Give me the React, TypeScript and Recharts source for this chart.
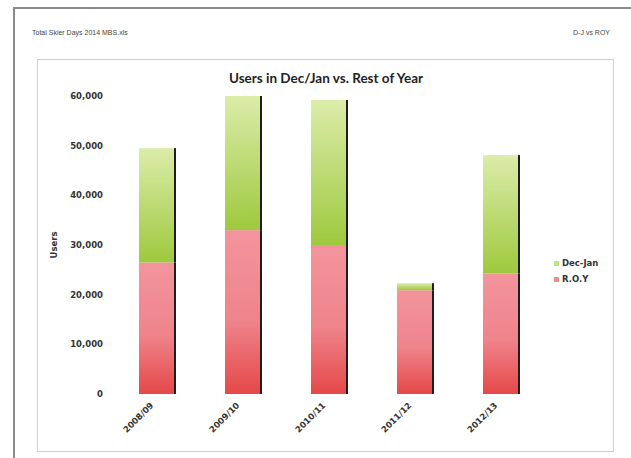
import { Bar, BarChart, Legend, XAxis, YAxis } from "recharts"

const seasons = ["2008/09", "2009/10", "2010/11", "2011/12", "2012/13"]
const roy = [26500, 33000, 30000, 20900, 24300]
const decJan = [23000, 27000, 29200, 1400, 23800]
const yTicks = [0, 10000, 20000, 30000, 40000, 50000, 60000]

const data = seasons.map((season, i) => ({
  season,
  roy: roy[i],
  decJan: decJan[i],
}))

const font = "Lato, 'Open Sans', sans-serif"
const tickFont = "'DejaVu Sans', Verdana, sans-serif"

// bar segment with the dark edge on the right like the excel export
function ShadedBar(props: any) {
  const { x, y, width, height, fill } = props
  if (!height || height <= 0) return null
  return (
    <g>
      <rect x={x} y={y} width={width} height={height} fill={fill} />
      <rect x={x + width - 1} y={y} width={2} height={height} fill="#1e1e1e" />
    </g>
  )
}

function SeasonTick(props: any) {
  const { x, y, payload } = props
  return (
    <text
      x={x - 3}
      y={y + 4}
      transform={`rotate(-45, ${x - 3}, ${y + 4})`}
      textAnchor="end"
      fontSize={8.5}
      fontWeight="bold"
      fontFamily={tickFont}
      fill="#333"
    >
      {payload.value}
    </text>
  )
}

function LegendBox(props: any) {
  const items = props.payload || []
  return (
    <div style={{ fontFamily: tickFont, fontSize: 8.5, fontWeight: "bold", color: "#333" }}>
      {items.map((p: any) => (
        <div key={p.value} style={{ display: "flex", alignItems: "center", height: 16 }}>
          <span
            style={{
              width: 5,
              height: 5,
              background: p.dataKey === "roy" ? "#ef8a92" : "#c6e07c",
              marginRight: 3,
            }}
          />
          {p.value}
        </div>
      ))}
    </div>
  )
}

export default function App() {
  return (
    <div style={{ position: "absolute", left: 0, top: 0, width: 631, height: 458, background: "#fff", overflow: "hidden" }}>
      <div style={{ position: "absolute", left: 13, top: 7, width: 630, height: 460, borderTop: "2px solid #8a8a8a", borderLeft: "2px solid #8a8a8a" }} />
      <div style={{ position: "absolute", left: 32, top: 29, fontFamily: "'Liberation Sans', Arial, sans-serif", fontSize: 7, color: "#444" }}>
        Total Skier Days 2014 MBS.xls
      </div>
      <div style={{ position: "absolute", right: 21, top: 29, fontFamily: "'Liberation Sans', Arial, sans-serif", fontSize: 7, color: "#444" }}>
        D-J vs ROY
      </div>
      <div style={{ position: "absolute", left: 37, top: 59, width: 577, height: 393, border: "1px solid #cfcfcf", boxSizing: "border-box" }}>
        <div style={{ position: "absolute", left: 0, top: 10, width: 576, textAlign: "center", fontFamily: font, fontWeight: "bold", fontSize: 13.5, color: "#222" }}>
          Users in Dec/Jan vs. Rest of Year
        </div>
        <BarChart
          width={576}
          height={392}
          data={data}
          margin={{ top: 36, right: 70, bottom: 0, left: 0 }}
          barSize={36}
        >
          <defs>
            <linearGradient id="gDJ" x1="0" y1="0" x2="0" y2="1">
              <stop offset="0%" stopColor="#dcecaa" />
              <stop offset="100%" stopColor="#9ec93e" />
            </linearGradient>
            <linearGradient id="gROY" x1="0" y1="0" x2="0" y2="1">
              <stop offset="0%" stopColor="#f3949c" />
              <stop offset="55%" stopColor="#ef848b" />
              <stop offset="100%" stopColor="#e54848" />
            </linearGradient>
          </defs>
          <XAxis
            dataKey="season"
            height={58}
            axisLine={false}
            tickLine={false}
            tick={<SeasonTick />}
            interval={0}
          />
          <YAxis
            width={76}
            domain={[0, 60000]}
            ticks={yTicks}
            allowDataOverflow
            axisLine={false}
            tickLine={false}
            tickMargin={5}
            tickFormatter={(v: number) => v.toLocaleString("en-US")}
            tick={{ fontSize: 8.5, fontWeight: "bold", fontFamily: tickFont, fill: "#333" }}
            label={{
              value: "Users",
              angle: -90,
              position: "center",
              dx: -22,
              style: { fontSize: 8.5, fontWeight: "bold", fontFamily: tickFont, fill: "#333" },
            }}
          />
          <Legend
            layout="vertical"
            align="center"
            verticalAlign="middle"
            wrapperStyle={{ left: 516, top: 195, width: 60 }}
            content={<LegendBox />}
          />
          <Bar dataKey="roy" name="R.O.Y" stackId="a" fill="url(#gROY)" shape={<ShadedBar />} isAnimationActive={false} />
          <Bar dataKey="decJan" name="Dec-Jan" stackId="a" fill="url(#gDJ)" shape={<ShadedBar />} isAnimationActive={false} />
        </BarChart>
      </div>
    </div>
  )
}
